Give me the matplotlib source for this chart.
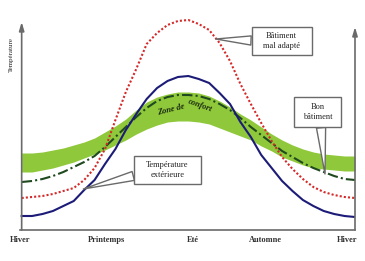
import matplotlib
matplotlib.use("Agg")
import matplotlib.pyplot as plt
from matplotlib.path import Path

# saisons (axe horizontal)
saisons = ["Hiver", "Printemps", "Eté", "Automne", "Hiver"]
# abscisses des points relevés : un point par 1/8 de saison (0 = hiver, 4 = hiver suivant)
x = [i / 8 for i in range(33)]

# température extérieure
t_ext = [14, 14, 16, 19, 24, 29, 40, 50, 66, 81, 100, 116, 131, 142, 149, 153, 154,
         151, 147, 137, 126, 108, 93, 75, 62, 49, 39, 30, 24, 19, 16, 14, 13]
# bâtiment mal adapté
t_mal = [32, 33, 34, 36, 39, 42, 50, 62, 81, 110, 138, 161, 186, 197, 205, 209, 210,
         206, 200, 187, 169, 146, 126, 107, 89, 73, 61, 51, 43, 38, 35, 33, 32]
# bon bâtiment
t_bon = [48, 49, 51, 54, 58, 63, 68, 74, 83, 93, 103, 113, 122, 129, 133, 135, 135,
         134, 131, 126, 120, 112, 103, 95, 87, 79, 73, 67, 62, 58, 54, 51, 50]
# zone de confort (bornes haute et basse)
confort_haut = [77, 77, 78, 80, 82, 85, 88, 92, 98, 104, 111, 120, 128, 133, 136, 138, 138,
                137, 134, 129, 123, 116, 110, 103, 96, 90, 85, 81, 78, 76, 75, 74, 74]
confort_bas = [58, 58, 60, 62, 65, 68, 72, 76, 80, 85, 90, 96, 101, 105, 108, 109, 109,
               108, 106, 102, 98, 94, 90, 84, 79, 73, 69, 65, 62, 61, 60, 59, 59]

serif = "Liberation Serif"
gris = "#6a6a6a"

fig = plt.figure(figsize=(3.65, 2.61), dpi=100)
ax = fig.add_axes([20 / 365, 31 / 261, 335 / 365, 230 / 261])
ax.set_xlim(0, 4)
ax.set_ylim(0, 230)

ax.fill_between(x, confort_bas, confort_haut, color="#8fc83a", lw=0, zorder=1)
ax.plot(x, t_bon, color="#1f4a1f", lw=1.5, ls=(0, (5, 1.5, 1, 1.5)), zorder=3)
ax.plot(x, t_mal, color="#d42a2a", lw=1.5, ls=(0, (1, 1)), zorder=3)
ax.plot(x, t_ext, color="#1c1c78", lw=1.5, zorder=3)

# axes fléchés
for s in ["top", "left", "right"]:
    ax.spines[s].set_visible(False)
ax.spines["bottom"].set_color(gris)
ax.spines["bottom"].set_linewidth(1.2)
fleche = dict(arrowstyle="-|>,head_width=0.15,head_length=0.5", color=gris, lw=1.2, shrinkA=0, shrinkB=0)
ax.annotate("", xy=(0, 208), xytext=(0, 0), arrowprops=fleche)
ax.annotate("", xy=(4, 203), xytext=(4, 0), arrowprops=fleche)

ax.set_yticks([])
ax.set_xticks([-0.02, 1.02, 2.05, 2.93, 3.9])
ax.set_xticklabels(saisons, fontfamily=serif, fontsize=6, fontweight="bold", color="#333333")
ax.tick_params(axis="x", length=0, pad=4)

ax.text(-0.12, 175, "Température", rotation=90, fontfamily=serif, fontsize=5,
        ha="center", va="center", color="#222222")

# zone de confort
ax.text(1.79, 120, "Zone de", rotation=14, fontfamily=serif, fontsize=6, fontweight="bold",
        fontstyle="italic", ha="center", va="center", color="#1a2a10", zorder=4)
ax.text(2.14, 124, "confort", rotation=-20, fontfamily=serif, fontsize=6, fontweight="bold",
        fontstyle="italic", ha="center", va="center", color="#1a2a10", zorder=4)


# cadre rectangulaire avec marges horizontale et verticale différentes
def cadre(padx, pady):
    def style(x0, y0, width, height, mutation_size):
        px, py = padx * mutation_size, pady * mutation_size
        x0, y0, x1, y1 = x0 - px, y0 - py, x0 + width + px, y0 + height + py
        return Path([(x0, y0), (x1, y0), (x1, y1), (x0, y1), (x0, y0)], closed=True)
    return style


def bulle(texte, cible, pos, relpos, padx, pady):
    ax.annotate(texte, xy=cible, xytext=pos, ha="center", va="center",
                fontfamily=serif, fontsize=6, color="#222222", linespacing=1.2, zorder=5,
                bbox=dict(boxstyle=cadre(padx, pady), fc="white", ec=gris, lw=1),
                arrowprops=dict(arrowstyle="wedge,tail_width=1.1,shrink_factor=0.5",
                                fc="white", ec=gris, lw=1, shrinkA=0, shrinkB=0, relpos=relpos))


bulle("Bâtiment\nmal adapté", (2.33, 191), (3.12, 189), (0, 0.5), 1.4, 0.6)
bulle("Bon\nbâtiment", (3.64, 56), (3.55, 118), (0.6, 0), 1.1, 0.8)
bulle("Température\nextérieure", (0.74, 41), (1.75, 60), (0, 0.35), 1.5, 0.7)

fig.savefig("out.png", dpi=100)
